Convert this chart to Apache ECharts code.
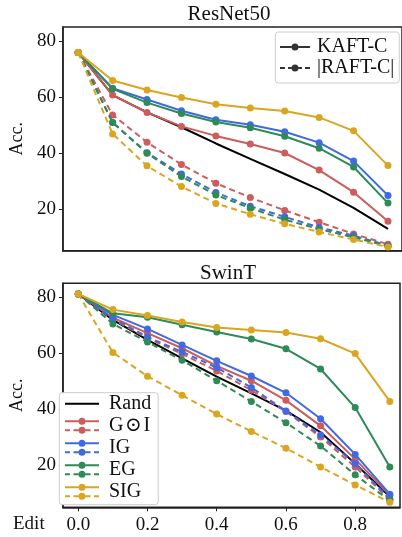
<!DOCTYPE html>
<html>
<head>
<meta charset="utf-8">
<script src="https://cdn.jsdelivr.net/npm/echarts@6/dist/echarts.min.js"></script>
<style>
html,body{margin:0;padding:0;background:#fff;}
#chart{width:402px;height:537px;}
</style>
</head>
<body>
<div id="chart"></div>
<script>
// ---- data ----
const edits = [0, 0.1, 0.2, 0.3, 0.4, 0.5, 0.6, 0.7, 0.8, 0.9];
const xTicks = [0, 0.2, 0.4, 0.6, 0.8];
const yTicks = [20, 40, 60, 80];
const methods = ['G\u200A\u2299\u200AI', 'IG', 'EG', 'SIG'];
const titles = ['ResNet50', 'SwinT'];

// ResNet50
const resRand   = [76, 60.8, 54.6, 49.3, 43.5, 38.0, 32.6, 27.0, 20.5, 13.0];
const resGI_K   = [76, 60.8, 54.6, 49.6, 46.2, 43.3, 40.1, 34.0, 26.1, 15.7];
const resIG_K   = [76, 63.2, 59.2, 55.2, 52.0, 50.2, 47.7, 43.8, 37.2, 24.9];
const resEG_K   = [76, 63.0, 58.1, 54.2, 51.2, 49.1, 46.1, 41.8, 35.1, 22.2];
const resSIG_K  = [76, 66.0, 62.6, 59.9, 57.5, 56.2, 55.1, 52.8, 48.0, 35.6];
const resGI_R   = [76, 53.7, 43.9, 36.0, 29.3, 24.2, 19.6, 15.4, 11.2, 7.5];
const resIG_R   = [76, 51.0, 40.2, 32.6, 26.0, 21.1, 17.3, 13.5, 10.6, 7.0];
const resEG_R   = [76, 51.0, 40.0, 31.7, 25.1, 20.4, 16.3, 12.9, 10.0, 6.8];
const resSIG_R  = [76, 46.9, 35.5, 28.1, 22.1, 18.2, 14.8, 11.9, 9.2, 6.5];

// SwinT
const swinRand  = [81.2, 71.9, 64.8, 58.2, 51.7, 45.7, 39.5, 31.8, 20.6, 8.8];
const swinGI_K  = [81.2, 72.7, 67.2, 61.8, 55.5, 50.2, 43.2, 34.1, 22.2, 9.2];
const swinIG_K  = [81.2, 73.7, 68.7, 63.0, 57.3, 51.9, 45.9, 36.6, 23.9, 9.7];
const swinEG_K  = [81.2, 74.3, 72.9, 70.2, 67.6, 65.1, 61.6, 54.4, 40.6, 19.4];
const swinSIG_K = [81.2, 75.6, 73.5, 71.2, 69.2, 68.3, 67.4, 65.2, 59.9, 42.8];
const swinGI_R  = [81.2, 72.1, 65.4, 59.8, 53.7, 46.8, 39.2, 30.1, 19.4, 7.8];
const swinIG_R  = [81.2, 72.5, 65.8, 60.5, 54.9, 47.8, 39.4, 30.8, 20.6, 8.0];
const swinEG_R  = [81.2, 70.5, 64.0, 57.5, 50.2, 42.8, 35.2, 26.9, 16.6, 7.4];
const swinSIG_R = [81.2, 60.3, 51.8, 45.0, 38.3, 32.1, 26.1, 19.4, 13.0, 6.8];

// ---- styling ----
const FONT = '"Liberation Serif", "DejaVu Serif", serif';
const TXT = '#111';
const FRAME = '#222';
const colors = ['#cd5c5c', '#4169e1', '#2e8b57', '#daa520'];

const resK = [resGI_K, resIG_K, resEG_K, resSIG_K];
const resR = [resGI_R, resIG_R, resEG_R, resSIG_R];
const swinK = [swinGI_K, swinIG_K, swinEG_K, swinSIG_K];
const swinR = [swinGI_R, swinIG_R, swinEG_R, swinSIG_R];

function pairs(ys) { return edits.map((x, i) => [x, ys[i]]); }

const series = [];
function addChart(idx, rand, kArr, rArr) {
  series.push({
    name: 'Rand', type: 'line', xAxisIndex: idx, yAxisIndex: idx,
    data: pairs(rand), showSymbol: false, symbol: 'none',
    color: '#000', lineStyle: { color: '#000', width: 2 },
    emphasis: { disabled: true }, silent: true, z: 2
  });
  methods.forEach((m, i) => {
    [[kArr[i], 'solid'], [rArr[i], [6, 4]]].forEach(([vals, ty], j) => {
      series.push({
        name: m, type: 'line', xAxisIndex: idx, yAxisIndex: idx,
        data: pairs(vals), symbol: 'circle', symbolSize: 7,
        color: colors[i],
        itemStyle: { color: colors[i], borderWidth: 0 },
        lineStyle: { color: colors[i], width: 2, type: ty },
        emphasis: { disabled: true }, silent: true, z: 3 + i
      });
    });
  });
}
addChart(0, resRand, resK, resR);
addChart(1, swinRand, swinK, swinR);
// dummy series for the ResNet50 legend (line style key)
series.push({ name: 'KAFT-C', type: 'line', xAxisIndex: 0, yAxisIndex: 0, data: [], color: '#333' });
series.push({ name: '|RAFT-C|', type: 'line', xAxisIndex: 0, yAxisIndex: 0, data: [], color: '#333' });

// legend icons (filled paths)
function circ(cx, cy, r) {
  return `M${cx - r},${cy} A${r},${r} 0 1,1 ${cx + r},${cy} A${r},${r} 0 1,1 ${cx - r},${cy} Z `;
}
function bar(x0, x1, y0, y1) {
  return `M${x0},${y0} L${x1},${y0} L${x1},${y1} L${x0},${y1} Z `;
}
// 30 x 7 single-row icons
const iconSolid30 = 'path://' + bar(0, 11.5, 2.5, 4.5) + bar(18.5, 30, 2.5, 4.5) + circ(15, 3.5, 3.5);
const iconDash30 = 'path://' + bar(0, 5, 2.5, 4.5) + bar(8, 11.5, 2.5, 4.5) + bar(18.5, 22, 2.5, 4.5) + bar(25, 30, 2.5, 4.5) + circ(15, 3.5, 3.5);
// 34 x 16 double-row icons
const iconDouble = 'path://' +
  bar(0, 13.5, 2.5, 4.5) + bar(20.5, 34, 2.5, 4.5) + circ(17, 3.5, 3.5) +
  bar(0, 5, 11.5, 13.5) + bar(8.5, 13.5, 11.5, 13.5) + bar(20.5, 25.5, 11.5, 13.5) + bar(29, 34, 11.5, 13.5) + circ(17, 12.5, 3.5);
const iconRand = 'path://' + bar(0, 34, 7, 9) + bar(0, 0.01, 0, 0.01) + bar(0, 0.01, 15.99, 16);

function xAxis(idx, max, showLabels) {
  return {
    type: 'value', gridIndex: idx, min: -0.0444, max: max,
    axisLine: { show: true, onZero: false, lineStyle: { color: FRAME, width: 1.5 } },
    axisTick: { show: showLabels, length: 4, lineStyle: { color: FRAME, width: 1 }, customValues: xTicks },
    axisLabel: { show: showLabels, customValues: xTicks, formatter: v => v.toFixed(1),
      fontFamily: FONT, fontSize: 19, color: TXT, margin: 8 },
    splitLine: { show: false }
  };
}
function yAxis(idx, min, max) {
  return {
    type: 'value', gridIndex: idx, min: min, max: max,
    name: 'Acc.', nameLocation: 'middle', nameRotate: 90, nameGap: 29,
    nameTextStyle: { fontFamily: FONT, fontSize: 18, color: TXT },
    axisLine: { show: true, onZero: false, lineStyle: { color: FRAME, width: 1.5 } },
    axisTick: { show: true, length: 4, lineStyle: { color: FRAME, width: 1 }, customValues: yTicks },
    axisLabel: { customValues: yTicks, fontFamily: FONT, fontSize: 19, color: TXT, margin: 7 },
    splitLine: { show: false }
  };
}

const option = {
  animation: false,
  backgroundColor: '#fff',
  title: [
    { text: titles[0], left: 229, top: 3.5, textAlign: 'center', padding: 0,
      textStyle: { fontFamily: FONT, fontSize: 21, fontWeight: 'normal', color: TXT, lineHeight: 22 } },
    { text: titles[1], left: 228, top: 262, textAlign: 'center', padding: 0,
      textStyle: { fontFamily: FONT, fontSize: 21, fontWeight: 'normal', color: TXT, lineHeight: 22 } }
  ],
  grid: [
    { left: 56, top: 27, right: -2, height: 223.7, show: true, borderColor: FRAME, borderWidth: 1.5, backgroundColor: '#fff' },
    { left: 56, top: 283.3, right: 2, height: 224, show: true, borderColor: FRAME, borderWidth: 1.5, backgroundColor: '#fff' }
  ],
  xAxis: [xAxis(0, 0.9407, false), xAxis(1, 0.9294, true)],
  yAxis: [yAxis(0, 5.2, 85.1), yAxis(1, 5, 85)],
  legend: [
    {
      data: [{ name: 'KAFT-C', icon: iconSolid30 }, { name: '|RAFT-C|', icon: iconDash30 }],
      orient: 'vertical', left: 275.3, top: 32,
      itemWidth: 30, itemHeight: 7, itemGap: 1,
      padding: [5, 5, 5, 4.7],
      borderColor: '#cccccc', borderWidth: 1, borderRadius: 3, backgroundColor: '#fff',
      selectedMode: false,
      itemStyle: { borderWidth: 0 },
      textStyle: { fontFamily: FONT, fontSize: 20, color: TXT, lineHeight: 18, padding: [0, 0, 0, 2] }
    },
    {
      data: [{ name: 'Rand', icon: iconRand }].concat(methods.map(m => ({ name: m, icon: iconDouble }))),
      orient: 'vertical', left: 59.3, top: 392.7,
      itemWidth: 34, itemHeight: 16, itemGap: 2,
      padding: [1, 7, 3, 5.7],
      borderColor: '#cccccc', borderWidth: 1, borderRadius: 3, backgroundColor: '#fff',
      selectedMode: false,
      itemStyle: { borderWidth: 0 },
      textStyle: { fontFamily: FONT, fontSize: 20, color: TXT, lineHeight: 16, padding: [0, 0, 0, 5] }
    }
  ],
  graphic: [
    { type: 'text', left: 13, top: 515, style: { text: 'Edit', font: '19px ' + FONT, fill: TXT } }
  ],
  series: series
};

const chart = echarts.init(document.getElementById('chart'), null, { renderer: 'canvas' });
chart.setOption(option);
</script>
</body>
</html>
